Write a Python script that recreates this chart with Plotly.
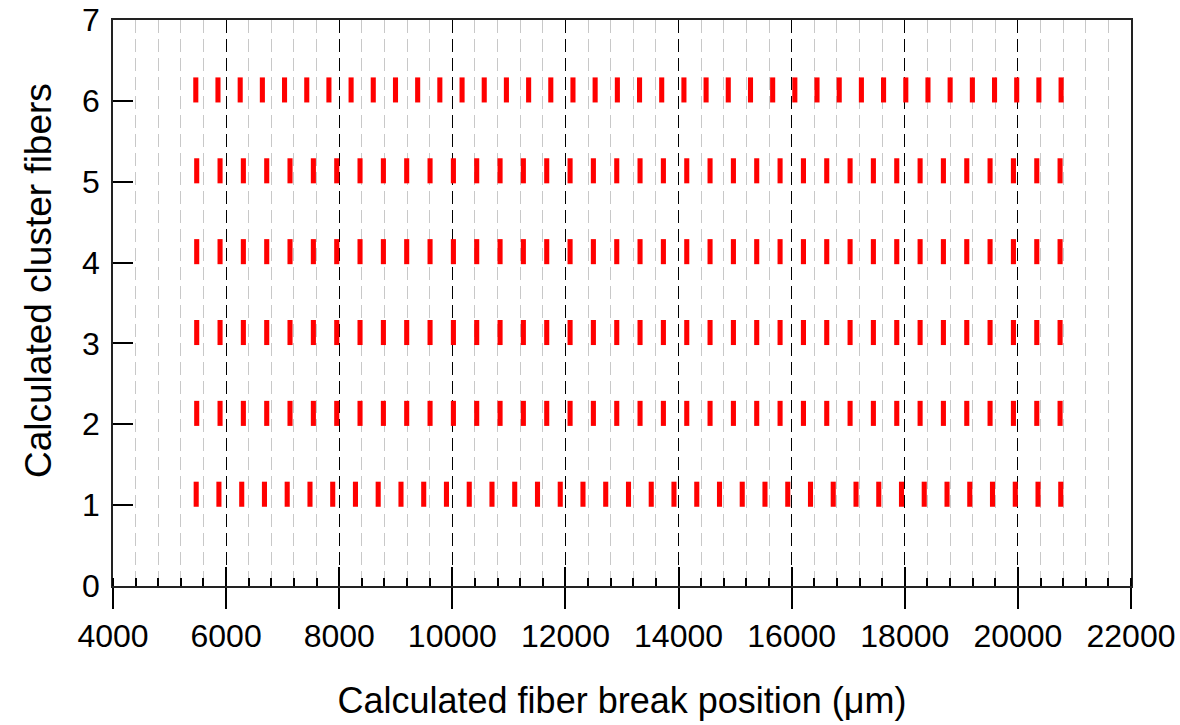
import plotly.graph_objects as go

# Cluster rows (y values)
cluster_rows = [1, 2, 3, 4, 5, 6]

# Calculated fiber break positions (µm), per cluster row
breaks_row1 = [5471, 5873, 6276, 6678, 7080, 7483, 7885, 8287, 8689, 9092,
               9494, 9896, 10299, 10701, 11103, 11506, 11908, 12310, 12712, 13115,
               13517, 13919, 14322, 14724, 15126, 15528, 15931, 16333, 16735, 17138,
               17540, 17942, 18344, 18747, 19149, 19551, 19954, 20356, 20758]
breaks_row2 = [5480, 5893, 6305, 6718, 7130, 7543, 7956, 8368, 8781, 9193,
               9606, 10019, 10431, 10844, 11256, 11669, 12082, 12494, 12907, 13319,
               13732, 14145, 14557, 14970, 15382, 15795, 16208, 16620, 17033, 17445,
               17858, 18271, 18683, 19096, 19508, 19921, 20334, 20746]
breaks_row3 = [5480, 5893, 6305, 6718, 7130, 7543, 7956, 8368, 8781, 9193,
               9606, 10019, 10431, 10844, 11256, 11669, 12082, 12494, 12907, 13319,
               13732, 14145, 14557, 14970, 15382, 15795, 16208, 16620, 17033, 17445,
               17858, 18271, 18683, 19096, 19508, 19921, 20334, 20746]
breaks_row4 = [5480, 5893, 6305, 6718, 7130, 7543, 7956, 8368, 8781, 9193,
               9606, 10019, 10431, 10844, 11256, 11669, 12082, 12494, 12907, 13319,
               13732, 14145, 14557, 14970, 15382, 15795, 16208, 16620, 17033, 17445,
               17858, 18271, 18683, 19096, 19508, 19921, 20334, 20746]
breaks_row5 = [5480, 5893, 6305, 6718, 7130, 7543, 7956, 8368, 8781, 9193,
               9606, 10019, 10431, 10844, 11256, 11669, 12082, 12494, 12907, 13319,
               13732, 14145, 14557, 14970, 15382, 15795, 16208, 16620, 17033, 17445,
               17858, 18271, 18683, 19096, 19508, 19921, 20334, 20746]
breaks_row6 = [5464, 5856, 6249, 6641, 7033, 7426, 7818, 8210, 8602, 8995,
               9387, 9779, 10172, 10564, 10956, 11349, 11741, 12133, 12525, 12918,
               13310, 13702, 14095, 14487, 14879, 15272, 15664, 16056, 16448, 16841,
               17233, 17625, 18018, 18410, 18802, 19195, 19587, 19979, 20371, 20764]

all_breaks = [breaks_row1, breaks_row2, breaks_row3, breaks_row4, breaks_row5, breaks_row6]

x_tick_values = [4000, 6000, 8000, 10000, 12000, 14000, 16000, 18000, 20000, 22000]
x_tick_labels = ["4000", "6000", "8000", "10000", "12000", "14000", "16000", "18000", "20000", "22000"]
y_tick_values = [0, 1, 2, 3, 4, 5, 6, 7]

FONT = "Liberation Sans, Arial, Helvetica, sans-serif"
MARK_H = 0.31
MARK_OFF = -0.02
MARK_W = 90

fig = go.Figure()
for row, xs in zip(cluster_rows, all_breaks):
    fig.add_trace(go.Bar(
        x=xs,
        y=[MARK_H] * len(xs),
        base=[row + MARK_OFF] * len(xs),
        width=MARK_W,
        marker=dict(color="#ff0000", line=dict(width=0)),
        showlegend=False,
        hoverinfo="x+y",
    ))

# invisible trace on overlay axis to hold the inside major ticks
fig.add_trace(go.Scatter(x=[x_tick_values[0]], y=[0], xaxis="x2", mode="markers",
                         marker=dict(opacity=0), showlegend=False, hoverinfo="skip"))

grid_dash = "13px,6px"
fig.update_layout(
    width=1180, height=725,
    margin=dict(l=113, r=49, t=20, b=139),
    paper_bgcolor="white", plot_bgcolor="white",
    barmode="overlay",
    font=dict(family=FONT, color="black", size=32),
    xaxis=dict(
        range=[4000, 22000], automargin=False,
        tickmode="array", tickvals=x_tick_values, ticktext=x_tick_labels,
        ticks="outside", ticklen=21, tickwidth=1.5, tickcolor="black",
        showgrid=True, gridcolor="black", griddash=grid_dash, gridwidth=1,
        minor=dict(dtick=400, tick0=4000, ticks="inside", ticklen=8, tickwidth=1.5,
                   tickcolor="black", showgrid=True, gridcolor="#c8c8c8",
                   griddash=grid_dash, gridwidth=1.2),
        showline=True, linecolor="#222", linewidth=1.5, mirror=True,
        zeroline=False,
        tickfont=dict(size=32, family=FONT),
        ticklabeloverflow="allow",
        title=dict(text="Calculated fiber break position (μm)",
                   font=dict(size=36, family=FONT), standoff=35),
        ticklabelstandoff=0,
    ),
    xaxis2=dict(
        range=[4000, 22000], overlaying="x", anchor="y", side="bottom",
        tickmode="array", tickvals=x_tick_values,
        ticks="inside", ticklen=19, tickwidth=1.5, tickcolor="black",
        showticklabels=False, showgrid=False, showline=False, zeroline=False,
    ),
    yaxis=dict(
        range=[0, 7], automargin=False,
        tickmode="array", tickvals=y_tick_values,
        ticks="inside", ticklen=20, tickwidth=1.5, tickcolor="black",
        showgrid=False, zeroline=False,
        showline=True, linecolor="#222", linewidth=1.5, mirror=True,
        tickfont=dict(size=32, family=FONT),
        ticklabeloverflow="allow",
        ticklabelstandoff=5,
    ),
    annotations=[dict(
        text="Calculated cluster fibers", textangle=-90,
        xref="paper", yref="paper", x=-0.0737, y=0.5406,
        xanchor="center", yanchor="middle", showarrow=False,
        font=dict(size=37, family=FONT, color="black"),
    )],
)

fig.write_html("out.html", config={"displayModeBar": False},
               post_script="document.body.style.margin='0';")
